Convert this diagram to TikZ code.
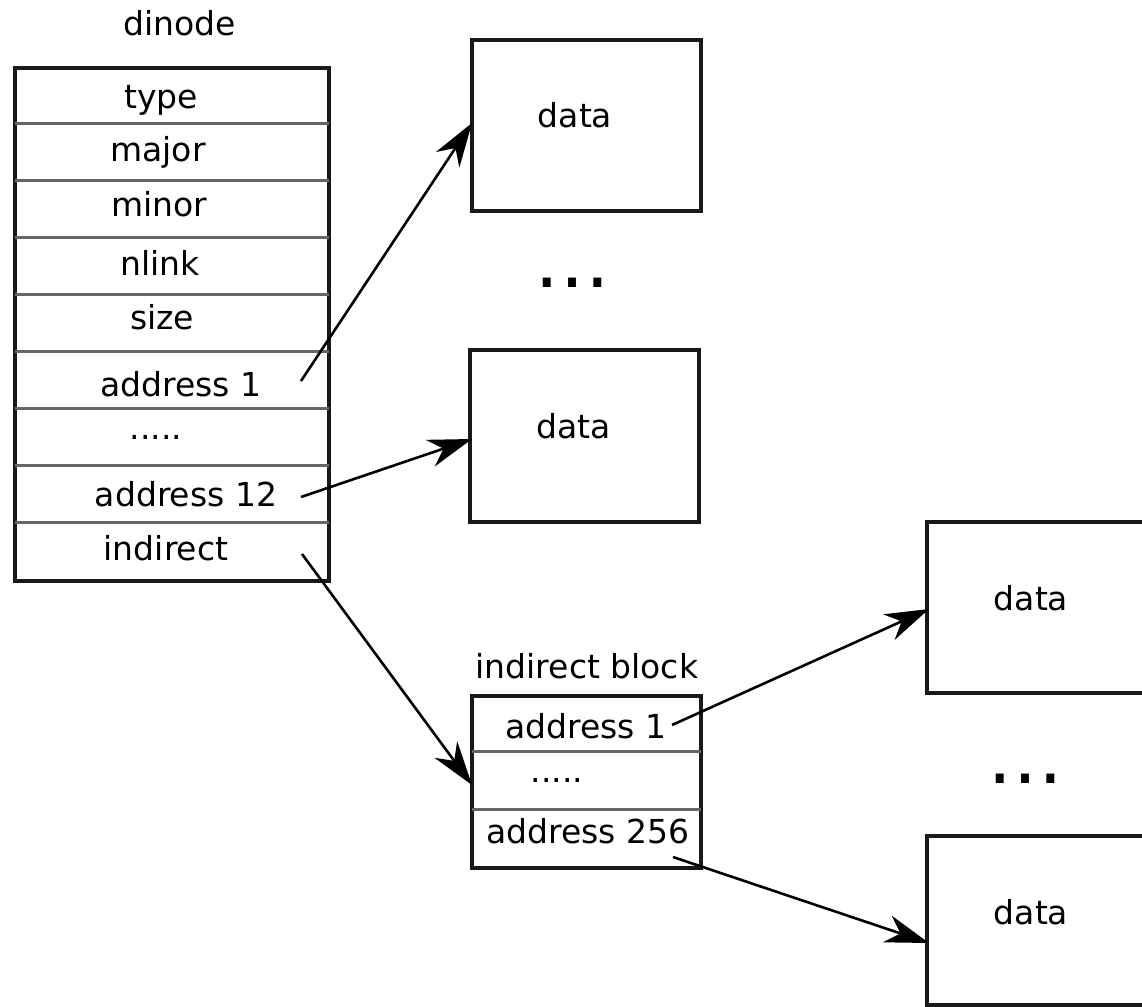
\documentclass[tikz,border=0pt]{standalone}
\usepackage{fontspec}
\setmainfont{DejaVu Sans}
\usetikzlibrary{arrows.meta}
\begin{document}
\begin{tikzpicture}[x=1pt,y=-1pt,
  txt/.style={anchor=base,inner sep=0pt,font=\fontsize{33}{40}\selectfont},
  ell/.style={anchor=base,inner sep=0pt,font=\fontsize{76}{80}\selectfont},
  outerbox/.style={draw=black!90,line width=3.2pt,inner sep=0pt,minimum width=#1},
  sep/.style={draw=black!60,line width=2.4pt},
  ptr/.style={line width=2.6pt,-{Stealth[length=44pt,width=28pt,inset=14pt]}}]
\useasboundingbox (0,0) rectangle (1142,1006);
% dinode
\node[txt] (tdinode) at (179.5,35.5) {dinode};
\node[outerbox=314pt,minimum height=513pt] (dinode) at (172,324.5) {};
\foreach \i in {1,...,8}
  \draw[sep] ([yshift=-\i*57pt,xshift=1.6pt]dinode.north west) -- ([yshift=-\i*57pt,xshift=-1.6pt]dinode.north east);
\node[txt] (ftype) at (161,109) {type};
\node[txt] (fmajor) at (158,161) {major};
\node[txt] (fminor) at (159,216) {minor};
\node[txt] (fnlink) at (160,275) {nlink};
\node[txt] (fsize) at (162,329) {size};
\node[txt] (faddr1) at (181,396) {address 1};
\node[txt] (fdots) at (156,439) {.....};
\node[txt] (faddr12) at (186,506) {address 12};
\node[txt] (findir) at (166,560) {indirect};
% data boxes
\node[outerbox=229pt,minimum height=171pt] (box1) at (586.5,125.5) {};
\node[txt] (d1) at (575,128) {data};
\node[ell] (e1) at (572,287) {…};
\node[outerbox=229pt,minimum height=172pt] (box2) at (584.5,436) {};
\node[txt] (d2) at (573.5,438) {data};
% indirect block
\node[txt] (tib) at (587,678) {indirect block};
\node[outerbox=229pt,minimum height=172pt] (ib) at (586.5,782) {};
\draw[sep] ([yshift=-57pt,xshift=1.6pt]ib.north west) -- ([yshift=-57pt,xshift=-1.6pt]ib.north east);
\draw[sep] ([yshift=-115pt,xshift=1.6pt]ib.north west) -- ([yshift=-115pt,xshift=-1.6pt]ib.north east);
\node[txt] (ibaddr1) at (586,738) {address 1};
\node[txt] (ibdots) at (557,782) {.....};
\node[txt] (ibaddr256) at (588,843) {address 256};
% right data boxes
\node[outerbox=300pt,minimum height=171pt] (box3) at (1077,607.5) {};
\node[txt] (d3) at (1031,610) {data};
\node[ell] (e2) at (1025,783) {…};
\node[outerbox=300pt,minimum height=169pt] (box4) at (1077,920.5) {};
\node[txt] (d4) at (1031,924) {data};
% pointer coordinates
\coordinate (s1) at (301,381);
\coordinate (s12) at (301,497);
\coordinate (sind) at (302,554);
\coordinate (sib1) at (672,725);
\coordinate (sib256) at (673,857);
\coordinate (tip1) at (472,123);
\coordinate (tip2) at (472,439);
\coordinate (tipib) at (472,785);
\coordinate (tip3) at (929,609);
\coordinate (tip4) at (929,943);
\draw[ptr] (s1) -- (tip1);
\draw[ptr] (s12) -- (tip2);
\draw[ptr] (sind) -- (tipib);
\draw[ptr] (sib1) -- (tip3);
\draw[ptr] (sib256) -- (tip4);
\end{tikzpicture}
\end{document}
